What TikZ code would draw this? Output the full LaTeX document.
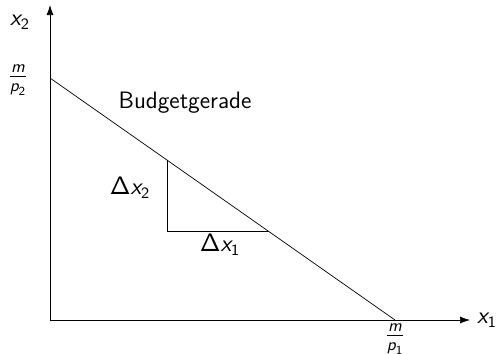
\documentclass[tikz,border=0pt]{standalone}
\usepackage{amsmath}
\usepackage{tikz}
\usetikzlibrary{arrows.meta, positioning, calc}

\newcommand{\svar}[1]{\text{\sffamily\itshape #1}}

\begin{document}
\begin{tikzpicture}[
  axis/.style={-{Latex[length=2mm, width=1.4mm]}, thin},
  line/.style={thin},
  lbl/.style={font=\sffamily\fontsize{13.5}{16}\selectfont, inner sep=1pt},
  frac/.style={font=\sffamily\fontsize{14}{16}\selectfont, inner sep=1pt}
]
\useasboundingbox (0,0) rectangle (10,7.06);

\coordinate (origin) at (1, 0.66);
\coordinate (ytop) at (1, 6.96);
\coordinate (xend) at (9.4, 0.66);
\coordinate (ymax) at (1, 5.5);
\coordinate (xmax) at (7.9, 0.66);

% axes
\draw[axis] (origin) -- (ytop);
\draw[axis] (origin) -- (xend);
\node[lbl] (x2) at (0.4, 6.62) {$\svar{x}_{\mathsf{2}}$};
\node[lbl] (x1) at (9.74, 0.66) {$\svar{x}_{\mathsf{1}}$};
\node[frac] (m2) at (0.36, 5.46) {$\frac{\svar{m}}{\svar{p}_{\mathsf{2}}}$};
\node[frac] (m1) at (7.9, 0.28) {$\frac{\svar{m}}{\svar{p}_{\mathsf{1}}}$};

% budget line
\draw[line] (ymax) -- (xmax);
\node[lbl] (budget) at (3.7, 5.0) {Budgetgerade};

% slope triangle
\coordinate (top) at (3.34, 3.859);
\coordinate (corner) at (3.34, 2.44);
\coordinate (right) at (5.36, 2.44);
\draw[line] (top) -- (corner) -- (right);
\node[lbl] (dx2) at (2.6, 3.3) {$\mathsf{\Delta}\svar{x}_{\mathsf{2}}$};
\node[lbl] (dx1) at (4.4, 2.16) {$\mathsf{\Delta}\svar{x}_{\mathsf{1}}$};

\end{tikzpicture}
\end{document}
